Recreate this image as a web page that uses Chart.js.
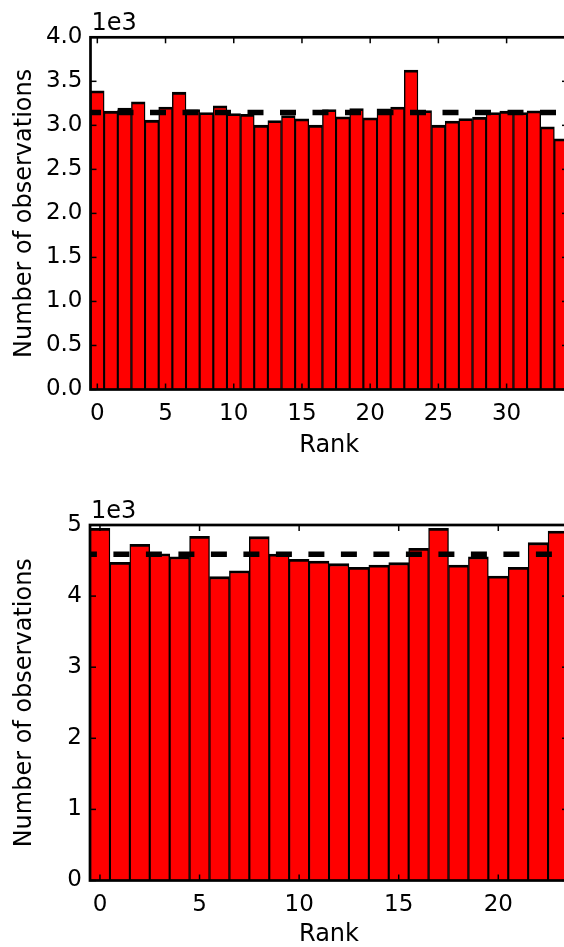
<!DOCTYPE html>
<html><head><meta charset="utf-8">
<script src="https://cdn.jsdelivr.net/npm/chart.js@4.4.1/dist/chart.umd.min.js"></script>
<style>
html,body{margin:0;padding:0;background:#fff;overflow:hidden;width:564px;height:947px;}
.box{position:absolute;left:0;}
</style></head><body>
<div class="box" style="top:0"><canvas id="c1" width="600" height="470"></canvas></div>
<div class="box" style="top:470px"><canvas id="c2" width="600" height="490"></canvas></div>
<script>
// ---- Data: top histogram ----
const ranksTop = [0,1,2,3,4,5,6,7,8,9,10,11,12,13,14,15,16,17,18,19,20,21,22,23,24,25,26,27,28,29,30,31,32,33,34];
const countsTop = [3392,3161,3195,3267,3059,3207,3377,3180,3146,3221,3135,3125,3002,3055,3112,3074,3002,3180,3097,3191,3085,3187,3207,3627,3169,3002,3048,3078,3093,3146,3161,3146,3165,2983,2847];
const expectedTop = 3146;
const xTicksTop = [0,5,10,15,20,25,30];
const yTicksTop = [0,500,1000,1500,2000,2500,3000,3500,4000];

// ---- Data: bottom histogram ----
const ranksBottom = [0,1,2,3,4,5,6,7,8,9,10,11,12,13,14,15,16,17,18,19,20,21,22,23];
const countsBottom = [4954,4475,4729,4596,4554,4841,4273,4357,4836,4592,4518,4494,4456,4405,4437,4470,4672,4954,4437,4554,4283,4405,4751,4916];
const expectedBottom = 4588;
const xTicksBottom = [0,5,10,15,20];
const yTicksBottom = [0,1000,2000,3000,4000,5000];

const offsetText = '1e3';
const xTitle = 'Rank';
const yTitle = 'Number of observations';

Chart.defaults.font.family = '"DejaVu Sans", sans-serif';
Chart.defaults.color = '#000';

const frame = {
  id: 'frame',
  afterDatasetsDraw(chart, args, opts) {
    const {ctx, chartArea: a, scales: {x, y}} = chart;
    ctx.save();
    ctx.strokeStyle = '#000';
    ctx.lineWidth = 1.5;
    const seg = (x1, y1, x2, y2) => { ctx.beginPath(); ctx.moveTo(x1, y1); ctx.lineTo(x2, y2); ctx.stroke(); };
    x.ticks.forEach(t => { const p = x.getPixelForValue(t.value); seg(p, a.bottom, p, a.bottom - 6); seg(p, a.top, p, a.top + 6); });
    y.ticks.forEach(t => { const p = y.getPixelForValue(t.value); seg(a.left, p, a.left + 6, p); seg(a.right, p, a.right - 6, p); });
    ctx.lineWidth = 2.7;
    ctx.strokeRect(a.left, a.top, a.right - a.left, a.bottom - a.top);
    ctx.font = '24px "DejaVu Sans"';
    ctx.fillStyle = '#000';
    ctx.textBaseline = 'alphabetic';
    ctx.textAlign = 'left';
    ctx.fillText(opts.offsetText, a.left + 1, a.top - 7);
    ctx.restore();
  }
};

function makeChart(id, ranks, counts, expected, xTicks, yTicks, decimals, g) {
  const lo = ranks[0] - 0.5, hi = ranks[ranks.length - 1] + 0.5;
  const canvas = document.getElementById(id);
  return new Chart(canvas, {
    type: 'bar',
    data: {
      datasets: [
        {
          type: 'line',
          data: [{x: lo, y: expected}, {x: hi, y: expected}],
          borderColor: '#000',
          borderWidth: 5.5,
          borderDash: [16, 16.5],
          borderDashOffset: g.dashOffset,
          borderCapStyle: 'butt',
          pointRadius: 0,
          fill: false,
          order: 0
        },
        {
          type: 'bar',
          data: ranks.map((r, i) => ({x: r, y: counts[i]})),
          backgroundColor: '#ff0000',
          borderColor: '#000',
          borderWidth: {top: 2.8, left: 1.4, right: 1.4, bottom: 0},
          borderSkipped: false,
          barPercentage: 1.0,
          categoryPercentage: 1.0,
          order: 1
        }
      ]
    },
    options: {
      responsive: false,
      animation: false,
      events: [],
      layout: {padding: {top: g.top, right: canvas.width - g.right, left: 0, bottom: 0}},
      plugins: {legend: {display: false}, tooltip: {enabled: false}, frame: {offsetText: offsetText}},
      scales: {
        x: {
          type: 'linear',
          offset: false,
          min: lo, max: hi,
          grid: {display: false, drawTicks: false, offset: false},
          border: {display: false},
          afterBuildTicks: s => { s.ticks = xTicks.map(v => ({value: v})); },
          afterFit: s => { s.height = canvas.height - g.bottom; },
          ticks: {font: {size: 23}, padding: 11, autoSkip: false, maxRotation: 0, callback: v => String(v)},
          title: {display: true, text: xTitle, font: {size: 24}, padding: {top: 0, bottom: g.titlePad}}
        },
        y: {
          type: 'linear',
          min: yTicks[0], max: yTicks[yTicks.length - 1],
          grid: {display: false, drawTicks: false},
          border: {display: false},
          afterBuildTicks: s => { s.ticks = yTicks.map(v => ({value: v})); },
          afterFit: s => { s.width = g.left; },
          ticks: {font: {size: 23}, padding: 8, callback: v => (v / 1000).toFixed(decimals)},
          title: {display: true, text: yTitle, font: {size: 24}, padding: {top: 10, bottom: 0}}
        }
      }
    },
    plugins: [frame]
  });
}

makeChart('c1', ranksTop, countsTop, expectedTop, xTicksTop, yTicksTop, 1,
  {top: 37.3, bottom: 389.5, left: 90.5, right: 568, dashOffset: 5.5, titlePad: 10});
makeChart('c2', ranksBottom, countsBottom, expectedBottom, xTicksBottom, yTicksBottom, 0,
  {top: 55, bottom: 410.5, left: 90, right: 568, dashOffset: 9.1, titlePad: 11});
</script>
</body></html>
